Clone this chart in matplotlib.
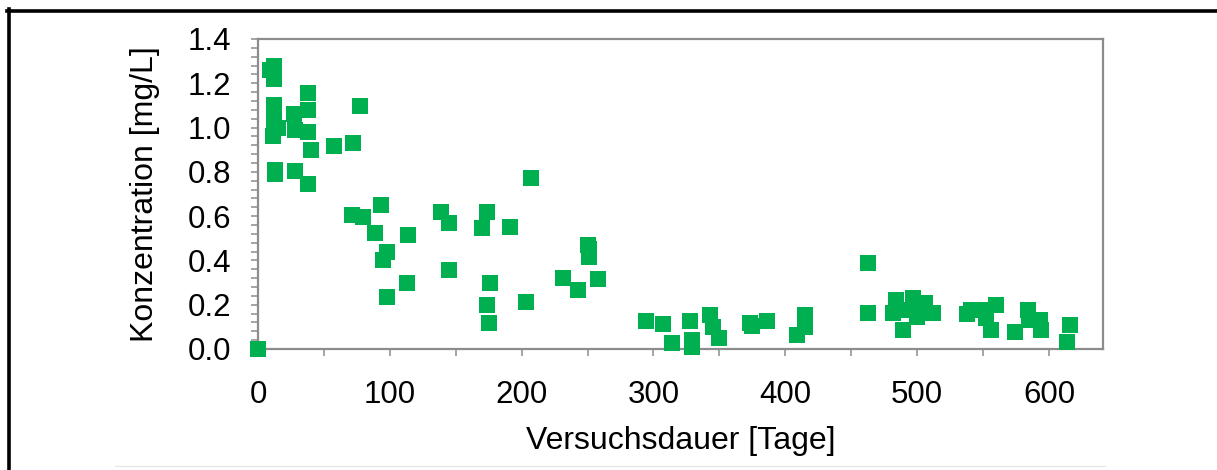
import matplotlib.pyplot as plt
from matplotlib.lines import Line2D
from matplotlib.ticker import MultipleLocator

# Versuchsdauer [Tage]
tage = [0, 9, 12, 12, 12, 15, 12, 11, 13, 13,
        27, 28, 38, 38, 38, 40, 28, 38, 58, 72, 77,
        71, 80, 93, 89, 114, 98, 95, 98, 113,
        139, 145, 145, 174, 170, 176, 174, 175, 191, 203, 207,
        231, 243, 250, 251, 251, 258,
        294, 307, 314, 328, 329, 329, 343, 345, 350,
        373, 375, 386, 409, 415, 415,
        463, 463, 482, 484, 489, 494, 497, 500, 506, 512,
        538, 541, 549, 552, 556, 560,
        574, 584, 585, 593, 594, 614, 616]

# Konzentration [mg/L]
konz = [0.0, 1.26, 1.28, 1.22, 1.10, 1.00, 1.03, 0.96, 0.81, 0.79,
        1.06, 0.99, 1.155, 1.08, 0.98, 0.90, 0.805, 0.745, 0.918, 0.929, 1.098,
        0.605, 0.598, 0.65, 0.522, 0.515, 0.44, 0.402, 0.236, 0.297,
        0.62, 0.57, 0.357, 0.62, 0.545, 0.297, 0.199, 0.119, 0.552, 0.214, 0.771,
        0.322, 0.266, 0.47, 0.45, 0.417, 0.315,
        0.128, 0.113, 0.026, 0.128, 0.04, 0.01, 0.154, 0.10, 0.048,
        0.116, 0.105, 0.128, 0.063, 0.154, 0.10,
        0.387, 0.161, 0.161, 0.221, 0.086, 0.176, 0.229, 0.146, 0.206, 0.161,
        0.16, 0.176, 0.176, 0.139, 0.086, 0.199,
        0.078, 0.176, 0.13, 0.131, 0.086, 0.033, 0.108]

plt.rcParams['font.family'] = ['Liberation Sans', 'DejaVu Sans']

fig = plt.figure(figsize=(12.17, 4.70), dpi=100)
ax = fig.add_axes([258 / 1217, 1 - 349 / 470, (1103 - 258) / 1217, (349 - 39) / 470])

ax.scatter(tage, konz, marker='s', s=118, color='#00b050', linewidths=0,
           clip_on=False, zorder=3)

ax.set_xlim(0, 641)
ax.set_ylim(0, 1.4)
ax.xaxis.set_major_locator(MultipleLocator(100))
ax.xaxis.set_minor_locator(MultipleLocator(50))
ax.yaxis.set_major_locator(MultipleLocator(0.2))
ax.yaxis.set_minor_locator(MultipleLocator(0.04))
ax.yaxis.set_major_formatter(plt.FuncFormatter(lambda v, p: '%.1f' % v))

for sp in ax.spines.values():
    sp.set_color('#8c8c8c')
    sp.set_linewidth(1.6)

ax.tick_params(which='both', direction='out', color='#8c8c8c', length=5, width=1.1,
               labelsize=22.5, pad=14)
ax.tick_params(axis='x', which='major', pad=17)

ax.set_xlabel('Versuchsdauer [Tage]', fontsize=23, labelpad=12)
ax.set_ylabel('Konzentration [mg/L]', fontsize=23, labelpad=20)

# Rahmen um die Abbildung
fig.add_artist(Line2D([7 / 1217, 1], [1 - 10.8 / 470, 1 - 10.8 / 470], color='black', lw=2.6))
fig.add_artist(Line2D([8.8 / 1217, 8.8 / 1217], [0, 1 - 9 / 470], color='black', lw=2.6))
fig.add_artist(Line2D([115 / 1217, 1105 / 1217], [1 - 466 / 470, 1 - 466 / 470],
                      color='#e8e8e8', lw=1))

fig.savefig('out.png', dpi=100)
